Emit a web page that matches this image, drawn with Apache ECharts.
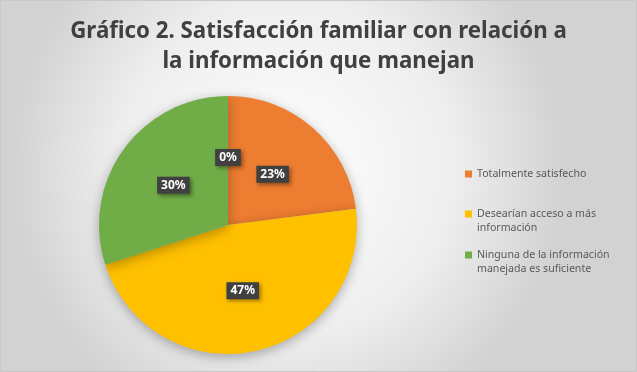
<!DOCTYPE html>
<html>
<head>
<meta charset="utf-8">
<script src="https://cdn.jsdelivr.net/npm/echarts@6/dist/echarts.min.js"></script>
<style>
  html, body { margin: 0; padding: 0; }
  #chart { width: 637px; height: 372px; }
</style>
</head>
<body>
<div id="chart"></div>
<script>
const categories = ['Totalmente satisfecho', 'Desearían acceso a más información', 'Ninguna de la información manejada es suficiente', 'Otro']
const values = [23, 47, 30, 0]
const colors = ['#ED7D31', '#FFC000', '#70AD47', '#5B9BD5']
// leading blank line keeps the icon level with the first text line
const legendLabels = ['Totalmente satisfecho', '\nDesearían acceso a más\ninformación', '\nNinguna de la información\nmanejada es suficiente']

const chart = echarts.init(document.getElementById('chart'))

const legendTops = [167, 193, 234]
const legends = legendLabels.map((label, i) => ({
  data: [categories[i]],
  orient: 'vertical',
  left: 465,
  top: legendTops[i],
  padding: 0,
  icon: 'rect',
  itemWidth: 7,
  itemHeight: 7,
  itemGap: 0,
  selectedMode: false,
  formatter: () => label,
  textStyle: {
    color: '#595959',
    fontSize: 10.6,
    fontFamily: 'Noto Sans',
    lineHeight: 14
  }
}))

const option = {
  backgroundColor: {
    type: 'radial',
    x: 0.45, y: 0.45, r: 0.75,
    colorStops: [
      { offset: 0, color: '#ffffff' },
      { offset: 0.6, color: '#eeeeee' },
      { offset: 1, color: '#d2d2d2' }
    ]
  },
  title: {
    text: 'Gráfico 2. Satisfacción familiar con relación a\nla información que manejan',
    left: 'center',
    top: 12,
    textStyle: {
      color: '#404040',
      fontSize: 22.3,
      fontWeight: 'bold',
      fontFamily: 'Noto Sans',
      lineHeight: 30
    }
  },
  legend: legends,
  series: [{
    type: 'pie',
    center: [228, 225],
    radius: 129,
    startAngle: 90,
    clockwise: true,
    animation: false,
    data: categories.map((name, i) => ({ name, value: values[i], itemStyle: { color: colors[i] } })),
    itemStyle: {
      shadowBlur: 12,
      shadowOffsetY: 3,
      shadowColor: 'rgba(0,0,0,0.3)'
    },
    label: {
      show: true,
      position: 'inside',
      formatter: (p) => p.value + '%',
      color: '#ffffff',
      fontSize: 12,
      fontWeight: 'bold',
      fontFamily: 'Noto Sans',
      backgroundColor: '#404040',
      padding: [3, 4, 2, 4],
      shadowBlur: 4,
      shadowOffsetX: 2,
      shadowOffsetY: 2,
      shadowColor: 'rgba(0,0,0,0.4)'
    },
    labelLine: { show: false }
  }],
  graphic: [{
    type: 'rect',
    shape: { x: 0.5, y: 0.5, width: 636, height: 371 },
    style: { fill: 'none', stroke: '#c8c8c8', lineWidth: 1 },
    silent: true
  }]
}

chart.setOption(option)
</script>
</body>
</html>
